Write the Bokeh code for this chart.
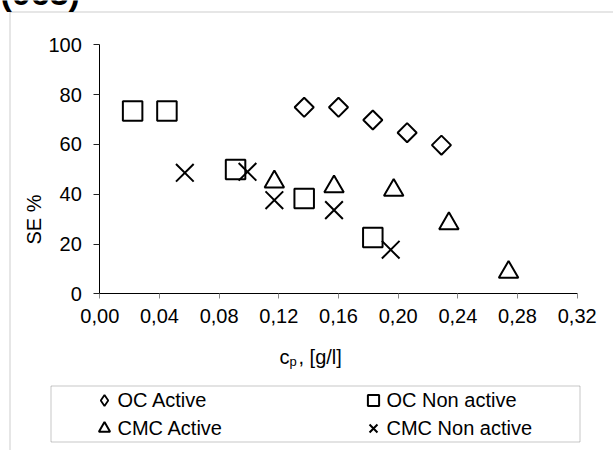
import math
from bokeh.plotting import figure
from bokeh.models import (Legend, LegendItem, BoxAnnotation, Label, Range1d,
                          FixedTicker, CustomJSTickFormatter)
from bokeh.embed import file_html
from bokeh.resources import INLINE

# ---- data ----
oc_active_x = [0.137, 0.160, 0.183, 0.206, 0.229]
oc_active_y = [74.9, 74.9, 69.8, 64.7, 59.7]

oc_non_x = [0.022, 0.045, 0.091, 0.137, 0.183]
oc_non_y = [73.4, 73.4, 49.9, 38.3, 22.6]

cmc_active_x = [0.117, 0.157, 0.197, 0.234, 0.274]
cmc_active_y = [45.0, 43.0, 41.6, 28.2, 8.7]

cmc_non_x = [0.057, 0.099, 0.117, 0.157, 0.195]
cmc_non_y = [48.6, 49.0, 37.6, 33.6, 17.7]

x_ticks = [0.00, 0.04, 0.08, 0.12, 0.16, 0.20, 0.24, 0.28, 0.32]
x_tick_labels = ["0,00", "0,04", "0,08", "0,12", "0,16", "0,20", "0,24", "0,28", "0,32"]
y_ticks = [0, 20, 40, 60, 80, 100]
x_bounds = (0.0, 0.32)
y_bounds = (0, 100)

series_names = ["OC Active", "OC Non active", "CMC Active", "CMC Non active"]
chart_title = "(063)"

# ---- layout (pixels) ----
W, H = 613, 450
AX_LEFT, AX_RIGHT = 99.3, 576.7     # x pixels of x_bounds
AX_BOTTOM, AX_TOP = 293.3, 44.3     # y pixels of y_bounds
FONT = "Liberation Sans"

# the frame covers the whole canvas; the axes sit at fixed data locations
kx = (AX_RIGHT - AX_LEFT) / (x_bounds[1] - x_bounds[0])
ky = (AX_BOTTOM - AX_TOP) / (y_bounds[1] - y_bounds[0])
x_range = Range1d(x_bounds[0] - AX_LEFT / kx, x_bounds[1] + (W - AX_RIGHT) / kx)
y_range = Range1d(y_bounds[0] - (H - AX_BOTTOM) / ky, y_bounds[1] + AX_TOP / ky)

p = figure(width=W, height=H, output_backend="svg", toolbar_location=None,
           x_range=x_range, y_range=y_range, min_border=0)
p.title.visible = False
p.outline_line_color = None
p.grid.visible = False
p.background_fill_color = "white"
p.border_fill_color = "white"

# axes
p.xaxis.ticker = FixedTicker(ticks=x_ticks)
p.xaxis.formatter = CustomJSTickFormatter(args=dict(xt=x_ticks, xl=x_tick_labels), code="""
const i = xt.findIndex(t => Math.abs(t - tick) < 1e-9);
return i >= 0 ? xl[i] : '';
""")
p.yaxis.ticker = FixedTicker(ticks=y_ticks)
p.xaxis.fixed_location = y_bounds[0]
p.yaxis.fixed_location = x_bounds[0]
p.xaxis.bounds = x_bounds
p.yaxis.bounds = y_bounds
for ax in (p.xaxis[0], p.yaxis[0]):
    ax.axis_line_color = "black"
    ax.axis_line_width = 1
    ax.minor_tick_line_color = None
    ax.major_tick_in = 0
    ax.major_label_text_font = FONT
    ax.major_label_text_font_size = "20px"
    ax.major_label_text_color = "black"
p.xaxis.major_tick_out = 5
p.xaxis.major_tick_line_color = "#888888"
p.xaxis.major_label_standoff = 10
p.yaxis.major_tick_out = 6
p.yaxis.major_tick_line_color = "#222222"
p.yaxis.major_label_standoff = 12

# series
r_oc_a = p.scatter(oc_active_x, oc_active_y, marker="square", angle=math.pi / 4,
                   size=13.5, fill_color=None, line_color="black", line_width=2)
r_oc_a_key = p.scatter(oc_active_x, oc_active_y, marker="diamond", size=13,
                       fill_color=None, line_color="black", line_width=1.8,
                       visible=False)
r_oc_n = p.scatter(oc_non_x, oc_non_y, marker="square", size=19.5,
                   fill_color=None, line_color="black", line_width=2)
r_cmc_a = p.scatter(cmc_active_x, cmc_active_y, marker="triangle", size=19.5,
                    fill_color=None, line_color="black", line_width=2)
r_cmc_n = p.scatter(cmc_non_x, cmc_non_y, marker="x", size=25,
                    line_color="black", line_width=2)

# legend: two columns, frame drawn as a box
def make_legend(items, left_px):
    lg = Legend(items=items, location=(left_px, 8), orientation="vertical",
                padding=0, margin=0, spacing=0,
                glyph_width=28, glyph_height=28, label_standoff=-10,
                label_text_font=FONT, label_text_font_size="20px",
                label_text_color="black",
                border_line_alpha=0, background_fill_alpha=0)
    p.add_layout(lg)

make_legend([LegendItem(label=series_names[0], renderers=[r_oc_a_key]),
             LegendItem(label=series_names[2], renderers=[r_cmc_a])], 89.5)
make_legend([LegendItem(label=series_names[1], renderers=[r_oc_n]),
             LegendItem(label=series_names[3], renderers=[r_cmc_n])], 358.5)

def canvas_box(l, r, t, b, color):
    p.add_layout(BoxAnnotation(left=l, right=r, top=t, bottom=b,
                               left_units="canvas", right_units="canvas",
                               top_units="canvas", bottom_units="canvas",
                               fill_alpha=0, line_color=color, line_width=1))

canvas_box(50.5, 579.5, 385.5, 441.5, "#444444")   # legend box
canvas_box(9.5, W + 50, 11.5, H + 50, "#555555")   # chart-area border, cut by the edges

def canvas_label(x, y, text, size="20px", **kw):
    p.add_layout(Label(x=x, y=y, x_units="canvas", y_units="canvas", text=text,
                       text_font=FONT, text_font_size=size, text_color="black", **kw))

# axis titles
canvas_label(33, 219, "SE %", angle=math.pi / 2, text_align="center",
             text_baseline="middle")
canvas_label(279, 356, "c", text_align="left", text_baseline="alphabetic")
canvas_label(289, 360.5, "p", size="13px", text_align="left", text_baseline="alphabetic")
canvas_label(298, 356, ", [g/l]", text_align="left", text_baseline="alphabetic")
# chart title, cut by the top edge of the picture
canvas_label(0, -8, chart_title, size="34px", text_font_style="bold",
             text_align="left", text_baseline="alphabetic")

open("out.html", "w").write(file_html(p, INLINE))
